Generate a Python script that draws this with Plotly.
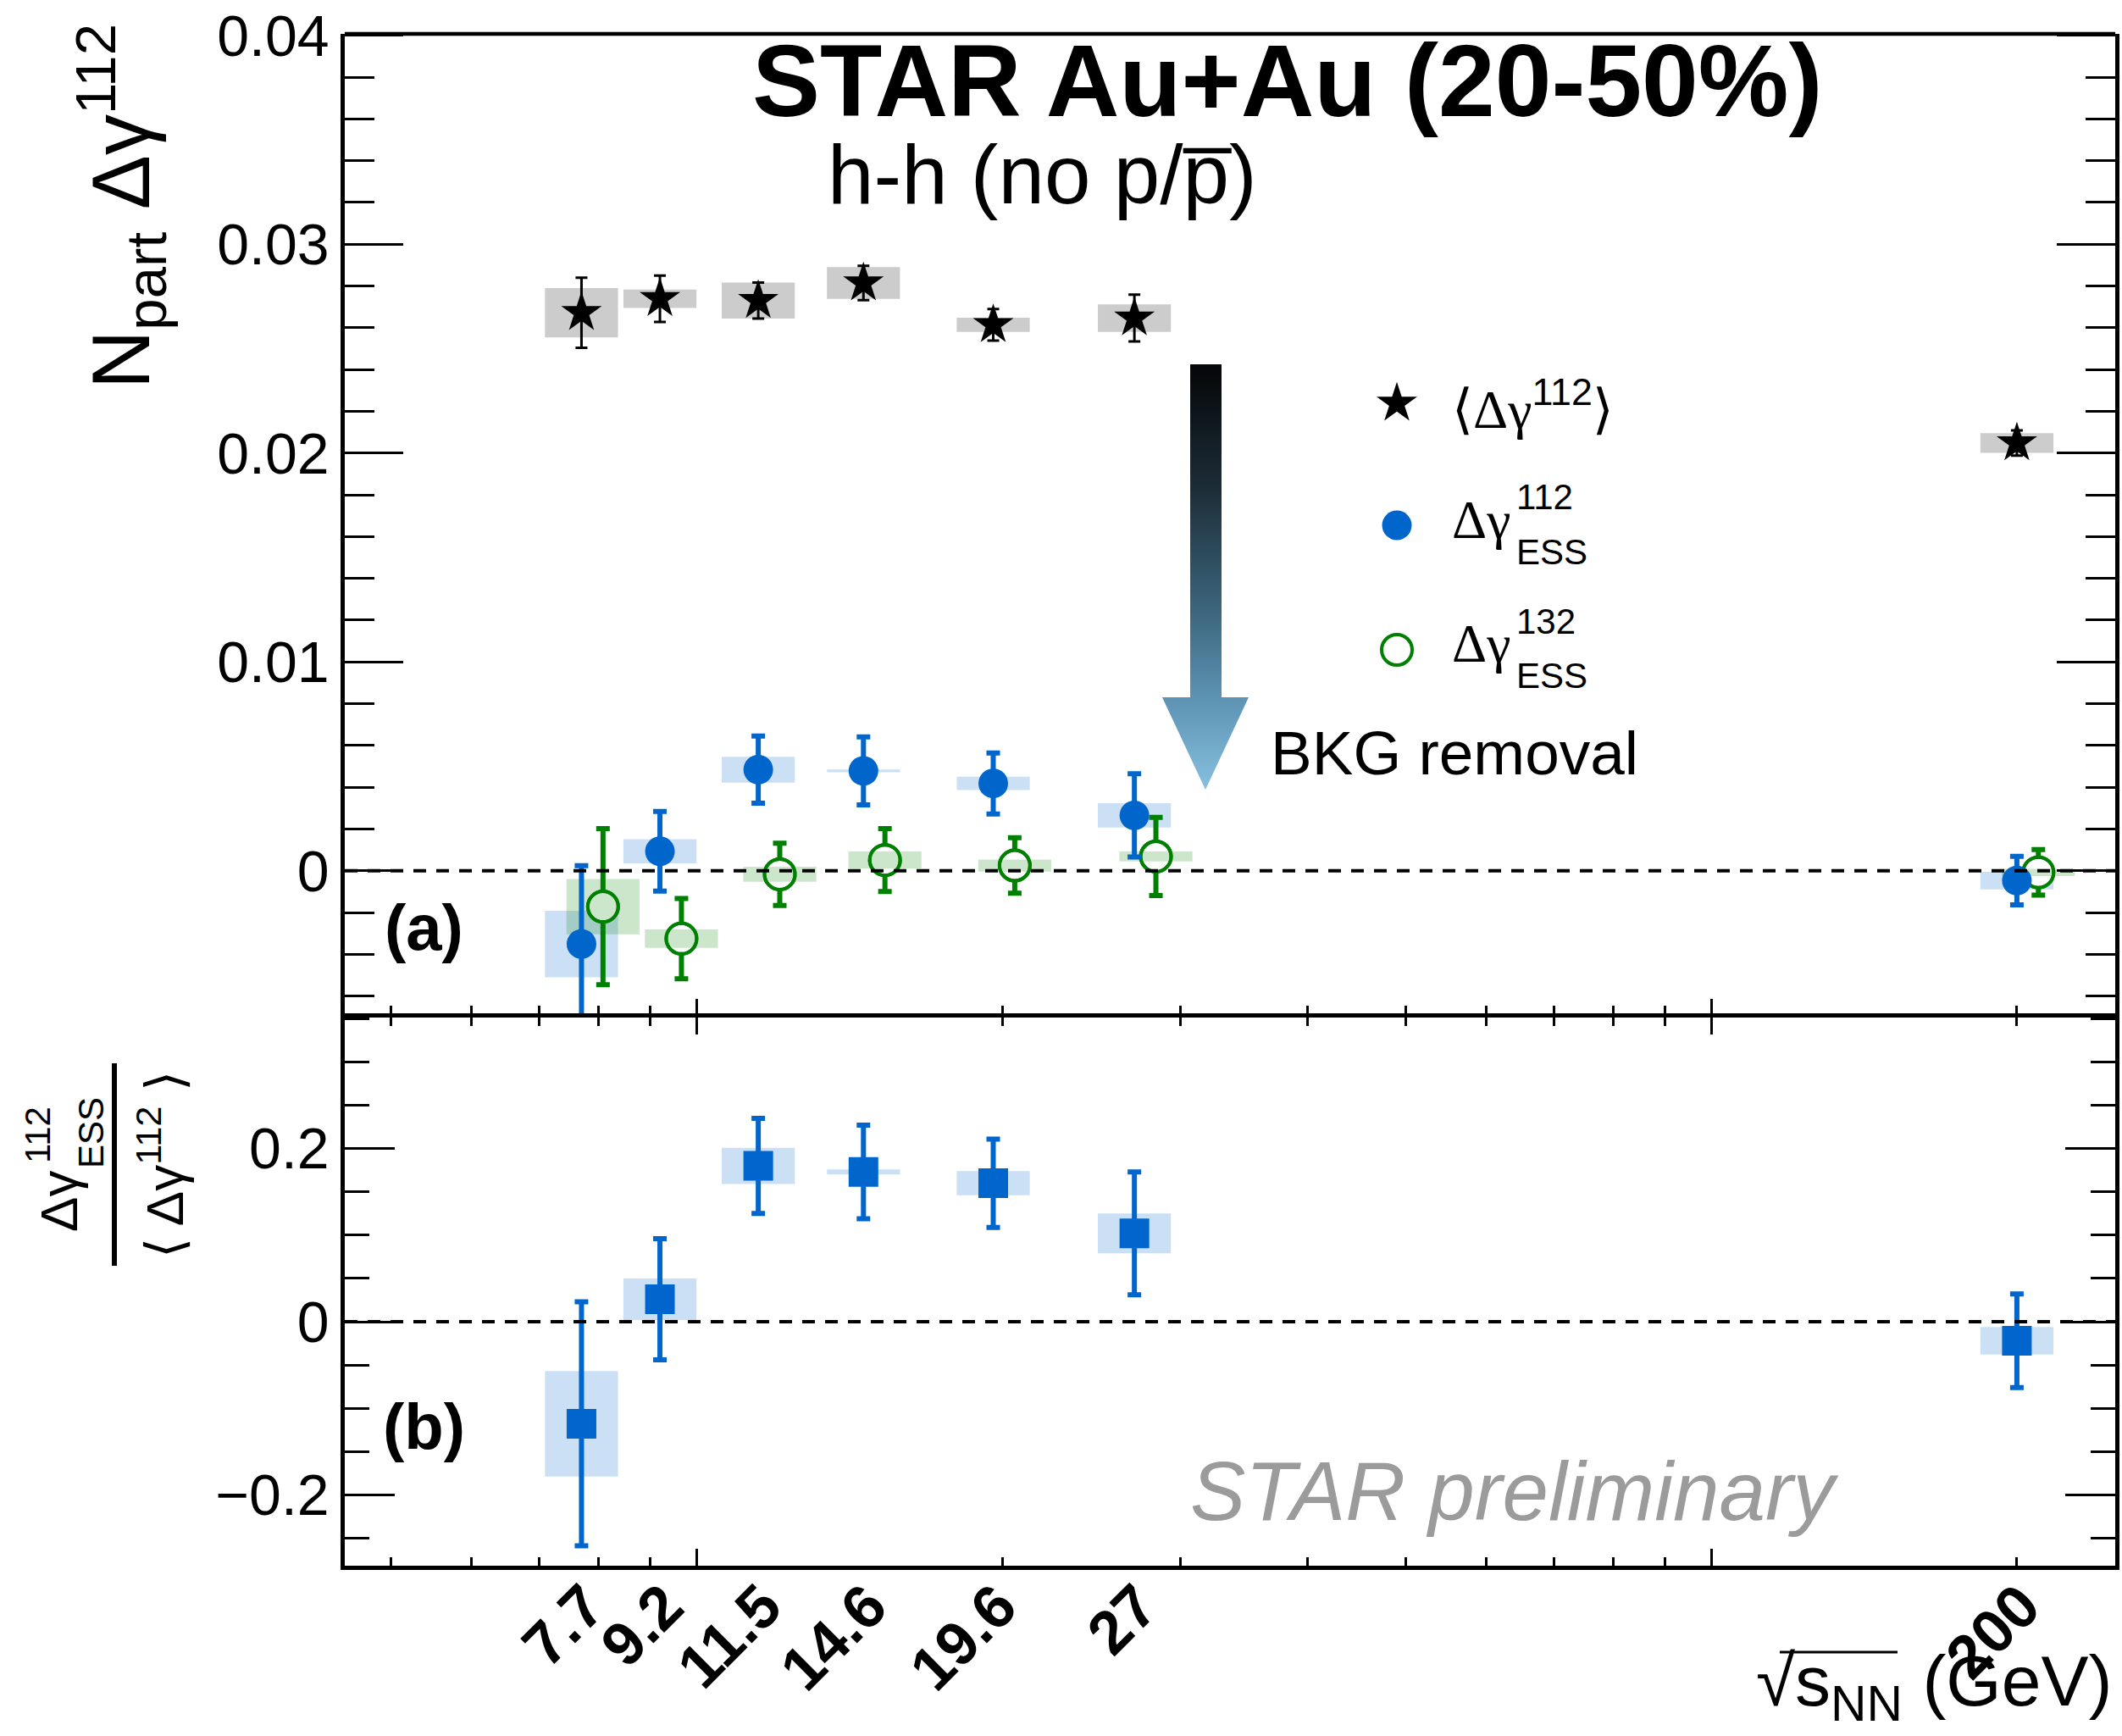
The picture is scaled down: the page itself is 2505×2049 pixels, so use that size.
import math
import plotly.graph_objects as go

# ---------------------------------------------------------------- data
energies = [7.7, 9.2, 11.5, 14.6, 19.6, 27.0, 200.0]
energy_labels = ["7.7", "9.2", "11.5", "14.6", "19.6", "27", "200"]

# N_part * <Δγ112> (inclusive)
dg_incl = [0.02672, 0.02739, 0.02730, 0.02814, 0.02614, 0.02646, 0.02048]
dg_incl_stat = [0.00168, 0.00111, 0.00086, 0.00082, 0.00076, 0.00112, 0.00060]
dg_incl_sys = [0.00118, 0.00044, 0.00086, 0.00076, 0.00034, 0.00066, 0.00047]

# N_part * Δγ112 (ESS)
dg112_ess = [-0.00351, 0.00093, 0.00484, 0.00478, 0.00418, 0.00265, -0.00047]
dg112_ess_stat = [0.00375, 0.00191, 0.00161, 0.00163, 0.00146, 0.00199, 0.00116]
dg112_ess_sys = [0.00159, 0.00058, 0.00062, 0.00007, 0.00032, 0.00058, 0.00042]

# N_part * Δγ132 (ESS)
dg132_ess = [-0.00172, -0.00325, -0.00017, 0.00051, 0.00025, 0.00068, -0.00008]
dg132_ess_stat = [0.00374, 0.00192, 0.00149, 0.00151, 0.00133, 0.00187, 0.00109]
dg132_ess_sys = [0.00132, 0.00044, 0.00036, 0.00041, 0.00029, 0.00024, 0.00017]

# Δγ112_ESS / <Δγ112>
ratio = [-0.118, 0.026, 0.180, 0.173, 0.160, 0.102, -0.022]
ratio_stat = [0.141, 0.070, 0.055, 0.054, 0.051, 0.071, 0.054]
ratio_sys = [0.061, 0.024, 0.021, 0.003, 0.014, 0.023, 0.016]

# ---------------------------------------------------------------- geometry
W, H = 2505, 2049
ML, MR, MT, MB = 407, 8, 40, 201
PW, PH = W - ML - MR, H - MT - MB
SPLIT_PX = 1201
dom_split = (H - MB - SPLIT_PX) / PH

XRANGE = [math.log10(4.5), math.log10(250.0)]
BOX_HALF = 0.036          # half width of systematic boxes, in decades
GREEN_SHIFT = 1.05        # Δγ132 points are drawn slightly to the right

FONT = "Liberation Sans, Arial, sans-serif"
SERIF = "Liberation Serif, DejaVu Serif, serif"
BLUE = "#0066cc"
GREEN = "#008000"
MINOR_X = [5, 6, 7, 8, 9, 20, 30, 40, 50, 60, 70, 80, 90, 200]
STAR_SIZE = 36


def xp(p):
    return (p - ML) / PW


def yp(p):
    return (H - MB - p) / PH


def sys_boxes(xs, vals, errs):
    bx, by = [], []
    for x, v, e in zip(xs, vals, errs):
        x0, x1 = x * 10 ** -BOX_HALF, x * 10 ** BOX_HALF
        bx += [x0, x1, x1, x0, x0, None]
        by += [v - e, v - e, v + e, v + e, v - e, None]
    return bx, by


fig = go.Figure()


def add_boxes(xs, vals, errs, color, xa, ya):
    bx, by = sys_boxes(xs, vals, errs)
    fig.add_trace(go.Scatter(x=bx, y=by, mode="lines", fill="toself", fillcolor=color,
                             line=dict(width=0), hoverinfo="skip", xaxis=xa, yaxis=ya))


x_green = [e * GREEN_SHIFT for e in energies]

# --- panel (a)
add_boxes(energies, dg_incl, dg_incl_sys, "rgba(0,0,0,0.2)", "x", "y")
add_boxes(energies, dg112_ess, dg112_ess_sys, "rgba(0,102,204,0.2)", "x", "y")

# Δγ132: error bars under white-filled rings, then the box tint, then the ring outline
fig.add_trace(go.Scatter(
    x=x_green, y=dg132_ess, mode="markers", xaxis="x", yaxis="y",
    marker=dict(symbol="circle", size=36, color="white", line=dict(color=GREEN, width=4)),
    error_y=dict(type="data", array=dg132_ess_stat, color=GREEN, thickness=6, width=8)))
add_boxes(x_green, dg132_ess, dg132_ess_sys, "rgba(0,128,0,0.2)", "x", "y")
fig.add_trace(go.Scatter(
    x=x_green, y=dg132_ess, mode="markers", xaxis="x", yaxis="y",
    marker=dict(symbol="circle-open", size=36, color=GREEN, line=dict(color=GREEN, width=4))))

fig.add_trace(go.Scatter(
    x=energies, y=dg112_ess, mode="markers", xaxis="x", yaxis="y",
    marker=dict(symbol="circle", size=35, color=BLUE, line=dict(width=0)),
    error_y=dict(type="data", array=dg112_ess_stat, color=BLUE, thickness=6, width=8)))

fig.add_trace(go.Scatter(
    x=energies, y=dg_incl, mode="markers", xaxis="x", yaxis="y",
    marker=dict(symbol="star", size=STAR_SIZE, color="black", line=dict(width=0)),
    error_y=dict(type="data", array=dg_incl_stat, color="black", thickness=3, width=7)))

# --- panel (b); the boxes sit on the labelled overlay axis (same log range)
add_boxes(energies, ratio, ratio_sys, "rgba(0,102,204,0.2)", "x3", "y2")
fig.add_trace(go.Scatter(
    x=energies, y=ratio, mode="markers", xaxis="x2", yaxis="y2",
    marker=dict(symbol="square", size=35, color=BLUE, line=dict(width=0)),
    error_y=dict(type="data", array=ratio_stat, color=BLUE, thickness=6, width=8)))

# --- decorations in pixel space (legend samples, arrow)
fig.add_trace(go.Scatter(
    x=[1405, 1442, 1442, 1474, 1423, 1372, 1405, 1405],
    y=[430, 430, 823, 823, 932, 823, 823, 430],
    mode="lines", fill="toself", line=dict(width=0), hoverinfo="skip",
    fillgradient=dict(type="vertical", start=430, stop=932,
                      colorscale=[[0, "#050608"], [0.3, "#1d2e39"], [0.6, "#3f6a82"],
                                  [0.78, "#5c92b2"], [1, "#86bfdf"]]),
    xaxis="x4", yaxis="y4"))
fig.add_trace(go.Scatter(x=[1649], y=[476], mode="markers", xaxis="x4", yaxis="y4",
                         marker=dict(symbol="star", size=STAR_SIZE, color="black",
                                     line=dict(width=0))))
fig.add_trace(go.Scatter(x=[1649], y=[620], mode="markers", xaxis="x4", yaxis="y4",
                         marker=dict(symbol="circle", size=35, color=BLUE, line=dict(width=0))))
fig.add_trace(go.Scatter(x=[1649], y=[767], mode="markers", xaxis="x4", yaxis="y4",
                         marker=dict(symbol="circle-open", size=36, color=GREEN,
                                     line=dict(color=GREEN, width=4))))

for tr in fig.data:
    tr.showlegend = False

# ---------------------------------------------------------------- axes
tick_common = dict(tickcolor="black", tickwidth=3, showgrid=False, zeroline=False,
                   linecolor="black", linewidth=4.5)

fig.update_layout(
    width=W, height=H,
    margin=dict(l=ML, r=MR, t=MT, b=MB, pad=0, autoexpand=False),
    paper_bgcolor="white", plot_bgcolor="rgba(0,0,0,0)",
    showlegend=False,
    font=dict(family=FONT, color="black"),
    # upper panel x axis: ticks only, the shared border line comes from the lower panel
    xaxis=dict(type="log", range=XRANGE, domain=[0, 1], anchor="y", showline=False,
               ticks="inside", tickvals=[10, 100], ticklen=22, showticklabels=False,
               minor=dict(tickmode="array", tickvals=MINOR_X, ticks="inside", ticklen=14,
                          tickwidth=3, tickcolor="black", showgrid=False),
               **tick_common),
    yaxis=dict(domain=[dom_split, 1], range=[-0.00703, 0.04007], anchor="x", mirror="ticks",
               showline=True, ticks="inside", tickvals=[0, 0.01, 0.02, 0.03, 0.04],
               ticktext=["0", "0.01", "0.02", "0.03", "0.04"], ticklen=69,
               tickfont=dict(size=68, family=FONT),
               minor=dict(tick0=0, dtick=0.002, ticks="inside", ticklen=35, tickwidth=3,
                          tickcolor="black", showgrid=False),
               **tick_common),
    xaxis2=dict(type="log", range=XRANGE, domain=[0, 1], anchor="y2", mirror="ticks",
                showline=True, ticks="inside", tickvals=[10, 100], ticklen=20,
                showticklabels=False,
                minor=dict(tickmode="array", tickvals=MINOR_X, ticks="inside", ticklen=10,
                           tickwidth=3, tickcolor="black", showgrid=False),
                **tick_common),
    yaxis2=dict(domain=[0, dom_split], range=[-0.2819, 0.3514], anchor="x2", mirror="ticks",
                showline=True, ticks="inside", tickvals=[-0.2, 0, 0.2],
                ticktext=["\u22120.2", "0", "0.2"],
                ticklen=59, tickfont=dict(size=68, family=FONT),
                minor=dict(tick0=0, dtick=0.05, ticks="inside", ticklen=29, tickwidth=3,
                           tickcolor="black", showgrid=False),
                **tick_common),
    xaxis3=dict(type="log", range=XRANGE, overlaying="x2", anchor="y2", side="bottom",
                tickmode="array", tickvals=energies, ticktext=energy_labels, ticks="",
                tickangle=-45, tickfont=dict(size=72, family=FONT, weight="bold"),
                ticklabelstandoff=-10, ticklabelshift=6,
                showline=False, showgrid=False, zeroline=False),
    xaxis4=dict(domain=[0, 1], range=[ML, W - MR], anchor="y4", visible=False),
    yaxis4=dict(domain=[0, 1], range=[H - MB, MT], anchor="x4", visible=False),
)

# ---------------------------------------------------------------- shapes
shapes = [
    # top border of the upper panel
    dict(type="line", xref="x domain", x0=0, x1=1, yref="y domain", y0=1, y1=1,
         line=dict(color="black", width=4.5)),
    dict(type="line", xref="x domain", x0=0, x1=1, yref="y", y0=0, y1=0,
         line=dict(color="black", width=4, dash="15px,12px")),
    dict(type="line", xref="x2 domain", x0=0, x1=1, yref="y2", y0=0, y1=0,
         line=dict(color="black", width=4, dash="15px,12px")),
    # fraction bar of the lower y title
    dict(type="line", xref="paper", yref="paper", x0=xp(135), x1=xp(135), y0=yp(1255), y1=yp(1494),
         line=dict(color="black", width=6)),
    # bar over s_NN
    dict(type="line", xref="paper", yref="paper", x0=xp(2101), x1=xp(2240), y0=yp(1950), y1=yp(1950),
         line=dict(color="black", width=3)),
]
fig.update_layout(shapes=shapes)

# ---------------------------------------------------------------- text
ann = []


def label(text, x, y, size, xanchor="center", yanchor="middle", angle=0,
          color="black", family=FONT):
    ann.append(dict(text=text, x=xp(x), y=yp(y), xref="paper", yref="paper",
                    xanchor=xanchor, yanchor=yanchor, textangle=angle, showarrow=False,
                    font=dict(size=size, color=color, family=family)))


SANS_SPAN = "<span style='font-family:Liberation Sans, Arial, sans-serif'>{}</span>"

label("<b>STAR Au+Au (20-50%)</b>", 1520, 95, 120)
label("h-h (no p/p\u0305)", 1230, 206, 98)
label("BKG removal", 1498, 889, 73, xanchor="left")
label("<b>(a)</b>", 500, 1094, 76)
label("<b>(b)</b>", 500, 1683, 76)
label("<i>STAR preliminary</i>", 1403, 1760, 98, xanchor="left", color="#9b9b9b")

# legend texts
label("\u27e8\u0394\u03b3<sup>" + SANS_SPAN.format("112") + "</sup>\u27e9", 1712, 478, 64,
      xanchor="left", family=SERIF)
for yc, sup in ((613, "112"), (759, "132")):
    label("\u0394\u03b3", 1712, yc, 64, xanchor="left", family=SERIF)
    label(sup, 1788, yc - 26, 42, xanchor="left")
    label("ESS", 1788, yc + 38, 42, xanchor="left")

# y title, upper panel
label("N<sub>part</sub> \u0394\u03b3<sup>112</sup>", 142, 244, 96, angle=-90)

# y title, lower panel (fraction)
label("\u0394\u03b3", 69, 1418, 62, angle=-90)
label("112", 44, 1340, 42, angle=-90)
label("ESS", 107, 1337, 42, angle=-90)
label("\u27e8 \u0394\u03b3<sup>112</sup> \u27e9", 190, 1375, 62, angle=-90)

# x title
label("\u221as<sub>NN</sub> (GeV)", 2495, 1990, 84, xanchor="right")

fig.update_layout(annotations=ann)

fig.write_html("out.html")
